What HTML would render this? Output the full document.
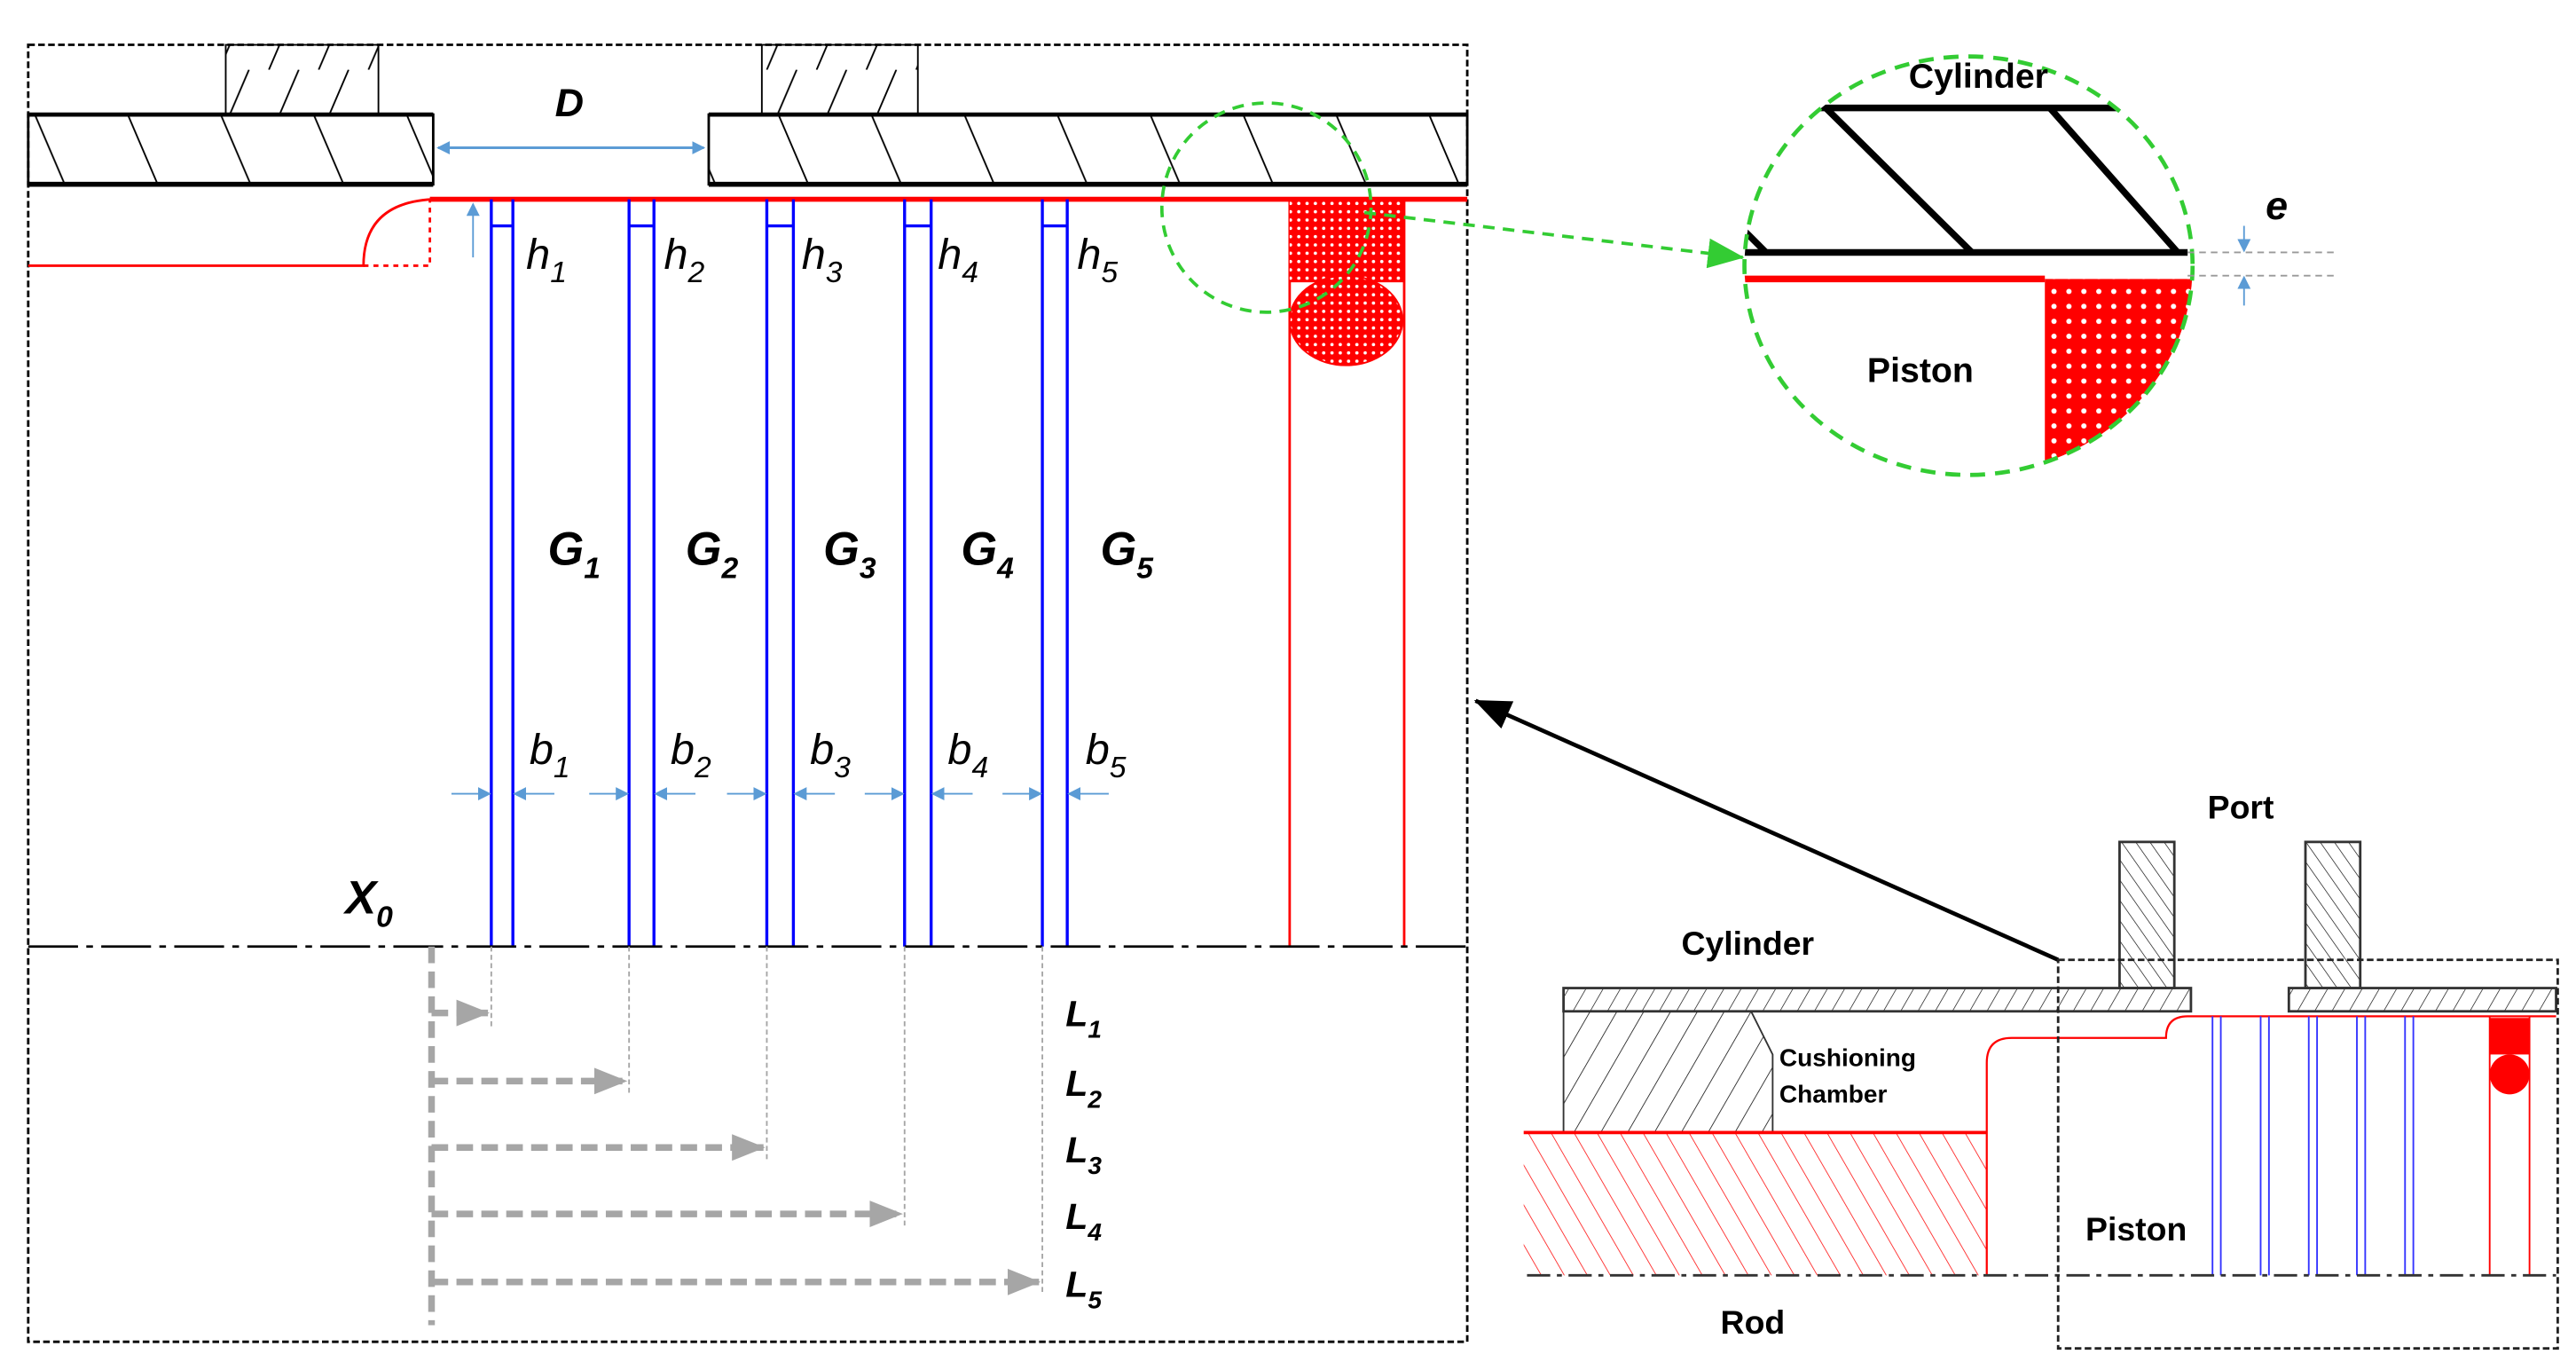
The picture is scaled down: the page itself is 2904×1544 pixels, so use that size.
<!DOCTYPE html>
<html><head><meta charset="utf-8"><style>
html,body{margin:0;padding:0;background:#fff;}
svg{display:block}
text{font-family:"Liberation Sans",sans-serif;}
</style></head><body>
<svg width="2904" height="1544" viewBox="0 0 1552 825" preserveAspectRatio="none" xmlns="http://www.w3.org/2000/svg">
<defs>
<pattern id="hb" patternUnits="userSpaceOnUse" width="56" height="42" patternTransform="translate(17,69)">
<path d="M4,0 L22,42 M60,0 L78,42 M-52,0 L-34,42" stroke="#000" stroke-width="1"/>
</pattern>
<pattern id="hp" patternUnits="userSpaceOnUse" width="30" height="42">
<path d="M30,0 L12,42 M60,0 L42,42 M0,0 L-18,42" stroke="#000" stroke-width="1"/>
</pattern>
<pattern id="h7" patternUnits="userSpaceOnUse" width="7" height="7" patternTransform="rotate(-35)">
<line x1="0" y1="0" x2="0" y2="7" stroke="#000" stroke-width="0.7"/>
</pattern>
<pattern id="h8" patternUnits="userSpaceOnUse" width="9" height="9" patternTransform="rotate(30)">
<line x1="0" y1="0" x2="0" y2="9" stroke="#000" stroke-width="0.7"/>
</pattern>
<pattern id="hc" patternUnits="userSpaceOnUse" width="14" height="14" patternTransform="rotate(30)">
<line x1="0" y1="0" x2="0" y2="14" stroke="#000" stroke-width="0.8"/>
</pattern>
<pattern id="hr" patternUnits="userSpaceOnUse" width="12" height="12" patternTransform="rotate(-30)">
<line x1="0" y1="0" x2="0" y2="12" stroke="#f00" stroke-width="0.8"/>
</pattern>
<pattern id="dots" patternUnits="userSpaceOnUse" width="5" height="5">
<rect width="5" height="5" fill="#f00"/><circle cx="2.5" cy="2.5" r="1" fill="#fff"/>
</pattern>
<pattern id="dots2" patternUnits="userSpaceOnUse" width="9" height="9">
<rect width="9" height="9" fill="#f00"/><circle cx="4.5" cy="4.5" r="1.6" fill="#fff"/>
</pattern>
<marker id="ab" markerWidth="8" markerHeight="8" refX="7" refY="4" orient="auto" markerUnits="userSpaceOnUse"><path d="M0,0 L8,4 L0,8z" fill="#5b9bd5"/></marker>
<marker id="ag" markerWidth="20" markerHeight="16" refX="19" refY="8" orient="auto" markerUnits="userSpaceOnUse"><path d="M0,0 L20,8 L0,16z" fill="#a6a6a6"/></marker>
<marker id="agr" markerWidth="22" markerHeight="18" refX="21" refY="9" orient="auto" markerUnits="userSpaceOnUse"><path d="M0,0 L22,9 L0,18z" fill="#3c3"/></marker>
<marker id="ak" markerWidth="22" markerHeight="18" refX="21" refY="9" orient="auto" markerUnits="userSpaceOnUse"><path d="M0,0 L22,9 L0,18z" fill="#000"/></marker>
<clipPath id="cc"><ellipse cx="1186" cy="160" rx="135" ry="126"/></clipPath>
</defs>

<rect x="17" y="27" width="867" height="781" fill="none" stroke="#000" stroke-width="1.5" stroke-dasharray="4,2"/>
<rect x="136" y="27" width="92" height="42" fill="url(#hp)" stroke="#000" stroke-width="1"/>
<rect x="459" y="27" width="94" height="42" fill="url(#hp)" stroke="#000" stroke-width="1"/>
<rect x="17" y="69" width="244" height="42" fill="url(#hb)" stroke="#000" stroke-width="1.5"/>
<rect x="427" y="69" width="457" height="42" fill="url(#hb)" stroke="#000" stroke-width="1.5"/>
<line x1="17" y1="111" x2="261" y2="111" stroke="#000" stroke-width="3"/>
<line x1="427" y1="111" x2="884" y2="111" stroke="#000" stroke-width="3"/>
<line x1="17" y1="69" x2="261" y2="69" stroke="#000" stroke-width="2.5"/>
<line x1="427" y1="69" x2="884" y2="69" stroke="#000" stroke-width="2.5"/>
<line x1="264" y1="89" x2="424" y2="89" stroke="#5b9bd5" stroke-width="1.5" marker-end="url(#ab)"/>
<line x1="424" y1="89" x2="264" y2="89" stroke="#5b9bd5" stroke-width="1.5" marker-end="url(#ab)"/>
<text x="343" y="70" font-size="24" font-weight="bold" font-style="italic" text-anchor="middle">D</text>

<line x1="259" y1="120" x2="884" y2="120" stroke="#f00" stroke-width="3"/>
<path d="M17,160 L219,160 Q219,122 261,120" fill="none" stroke="#f00" stroke-width="1.5"/>
<path d="M219,160 L259,160 L259,120" fill="none" stroke="#f00" stroke-width="1.5" stroke-dasharray="3,3"/>
<line x1="285" y1="155" x2="285" y2="123" stroke="#5b9bd5" stroke-width="1" marker-end="url(#ab)"/>

<g stroke="#00f" stroke-width="1.8" fill="none">
<path d="M296,120V570M309,120V570M296,136H309"/>
<path d="M379,120V570M394,120V570M379,136H394"/>
<path d="M462,120V570M478,120V570M462,136H478"/>
<path d="M545,120V570M561,120V570M545,136H561"/>
<path d="M628,120V570M643,120V570M628,136H643"/>
</g>
<g font-size="26" font-style="italic" font-family="Liberation Sans">
<text x="317" y="162">h<tspan font-size="18" dy="8">1</tspan></text>
<text x="400" y="162">h<tspan font-size="18" dy="8">2</tspan></text>
<text x="483" y="162">h<tspan font-size="18" dy="8">3</tspan></text>
<text x="565" y="162">h<tspan font-size="18" dy="8">4</tspan></text>
<text x="649" y="162">h<tspan font-size="18" dy="8">5</tspan></text>
<text x="319" y="460">b<tspan font-size="18" dy="8">1</tspan></text>
<text x="404" y="460">b<tspan font-size="18" dy="8">2</tspan></text>
<text x="488" y="460">b<tspan font-size="18" dy="8">3</tspan></text>
<text x="571" y="460">b<tspan font-size="18" dy="8">4</tspan></text>
<text x="654" y="460">b<tspan font-size="18" dy="8">5</tspan></text>
</g>
<g font-size="28" font-weight="bold" font-style="italic">
<text x="330" y="340">G<tspan font-size="18" dy="8">1</tspan></text>
<text x="413" y="340">G<tspan font-size="18" dy="8">2</tspan></text>
<text x="496" y="340">G<tspan font-size="18" dy="8">3</tspan></text>
<text x="579" y="340">G<tspan font-size="18" dy="8">4</tspan></text>
<text x="663" y="340">G<tspan font-size="18" dy="8">5</tspan></text>
<text x="208" y="550">X<tspan font-size="18" dy="8">0</tspan></text>
</g>
<g stroke="#5b9bd5" stroke-width="1">
<line x1="272" y1="478" x2="295" y2="478" marker-end="url(#ab)"/><line x1="334" y1="478" x2="310" y2="478" marker-end="url(#ab)"/>
<line x1="355" y1="478" x2="378" y2="478" marker-end="url(#ab)"/><line x1="419" y1="478" x2="395" y2="478" marker-end="url(#ab)"/>
<line x1="438" y1="478" x2="461" y2="478" marker-end="url(#ab)"/><line x1="503" y1="478" x2="479" y2="478" marker-end="url(#ab)"/>
<line x1="521" y1="478" x2="544" y2="478" marker-end="url(#ab)"/><line x1="586" y1="478" x2="562" y2="478" marker-end="url(#ab)"/>
<line x1="604" y1="478" x2="627" y2="478" marker-end="url(#ab)"/><line x1="668" y1="478" x2="644" y2="478" marker-end="url(#ab)"/>
</g>

<line x1="777" y1="120" x2="777" y2="570" stroke="#f00" stroke-width="1.5"/>
<line x1="846" y1="120" x2="846" y2="570" stroke="#f00" stroke-width="1.5"/>
<rect x="777" y="120" width="69" height="50" fill="url(#dots)"/>
<ellipse cx="811" cy="193" rx="34" ry="27" fill="url(#dots)" stroke="#f00" stroke-width="1"/>

<ellipse cx="763" cy="125" rx="63" ry="63" fill="none" stroke="#3c3" stroke-width="2" stroke-dasharray="7,5"/>
<line x1="822" y1="128" x2="1050" y2="155" stroke="#3c3" stroke-width="2" stroke-dasharray="7,5" marker-end="url(#agr)"/>

<line x1="17" y1="570" x2="884" y2="570" stroke="#000" stroke-width="1.5" stroke-dasharray="30,5,4,5"/>

<line x1="260" y1="570" x2="260" y2="798" stroke="#a6a6a6" stroke-width="4" stroke-dasharray="10,5"/>
<g stroke="#a6a6a6" stroke-width="1" stroke-dasharray="3,2">
<line x1="296" y1="570" x2="296" y2="618"/><line x1="379" y1="570" x2="379" y2="660"/><line x1="462" y1="570" x2="462" y2="700"/><line x1="545" y1="570" x2="545" y2="740"/><line x1="628" y1="570" x2="628" y2="780"/>
</g>
<g stroke="#a6a6a6" stroke-width="4" stroke-dasharray="10,5">
<line x1="260" y1="610" x2="294" y2="610" marker-end="url(#ag)"/>
<line x1="260" y1="651" x2="377" y2="651" marker-end="url(#ag)"/>
<line x1="260" y1="691" x2="460" y2="691" marker-end="url(#ag)"/>
<line x1="260" y1="731" x2="543" y2="731" marker-end="url(#ag)"/>
<line x1="260" y1="772" x2="626" y2="772" marker-end="url(#ag)"/>
</g>
<g font-size="22" font-weight="bold" font-style="italic">
<text x="642" y="618">L<tspan font-size="15" dy="7">1</tspan></text>
<text x="642" y="660">L<tspan font-size="15" dy="7">2</tspan></text>
<text x="642" y="700">L<tspan font-size="15" dy="7">3</tspan></text>
<text x="642" y="740">L<tspan font-size="15" dy="7">4</tspan></text>
<text x="642" y="781">L<tspan font-size="15" dy="7">5</tspan></text>
</g>

<line x1="1240" y1="578" x2="889" y2="422" stroke="#000" stroke-width="2.5" marker-end="url(#ak)"/>

<g clip-path="url(#cc)">
<rect x="1232" y="168" width="90" height="120" fill="url(#dots2)"/>
<line x1="1088" y1="65" x2="1285" y2="65" stroke="#000" stroke-width="4"/>
<line x1="1040" y1="152" x2="1318" y2="152" stroke="#000" stroke-width="4"/>
<line x1="1100" y1="65" x2="1188" y2="152" stroke="#000" stroke-width="4"/>
<line x1="1235" y1="65" x2="1312" y2="152" stroke="#000" stroke-width="4"/>
<line x1="1050" y1="138" x2="1064" y2="152" stroke="#000" stroke-width="4"/>
<line x1="1040" y1="168" x2="1232" y2="168" stroke="#f00" stroke-width="4"/>
</g>
<ellipse cx="1186" cy="160" rx="135" ry="126" fill="none" stroke="#3c3" stroke-width="2.5" stroke-dasharray="9,6"/>
<text x="1192" y="53" font-size="21" font-weight="bold" text-anchor="middle">Cylinder</text>
<text x="1157" y="230" font-size="21" font-weight="bold" text-anchor="middle">Piston</text>
<text x="1365" y="132" font-size="24" font-weight="bold" font-style="italic">e</text>
<g stroke="#999" stroke-width="1" stroke-dasharray="4,3"><line x1="1318" y1="152" x2="1408" y2="152"/><line x1="1318" y1="166" x2="1408" y2="166"/></g>
<line x1="1352" y1="136" x2="1352" y2="151" stroke="#5b9bd5" stroke-width="1" marker-end="url(#ab)"/>
<line x1="1352" y1="184" x2="1352" y2="167" stroke="#5b9bd5" stroke-width="1" marker-end="url(#ab)"/>

<text x="1350" y="493" font-size="20" font-weight="bold" text-anchor="middle">Port</text>
<rect x="1277" y="507" width="33" height="88" fill="url(#h7)" stroke="#333" stroke-width="1.5"/>
<rect x="1389" y="507" width="33" height="88" fill="url(#h7)" stroke="#333" stroke-width="1.5"/>
<rect x="942" y="595" width="378" height="14" fill="url(#h8)" stroke="#333" stroke-width="1.5"/>
<rect x="1379" y="595" width="161" height="14" fill="url(#h8)" stroke="#333" stroke-width="1.5"/>
<path d="M942,609 L1055,609 L1068,635 L1068,682 L942,682 Z" fill="url(#hc)" stroke="#333" stroke-width="1"/>
<rect x="918" y="682" width="279" height="86" fill="url(#hr)"/>
<line x1="918" y1="682" x2="1197" y2="682" stroke="#f00" stroke-width="2"/>
<path d="M1197,768 L1197,640 Q1197,625 1212,625 L1305,625 Q1305,612 1318,612 L1540,612" fill="none" stroke="#f00" stroke-width="1.2"/>
<g stroke="#33f" stroke-width="1"><path d="M1333,612V768M1338,612V768M1362,612V768M1367,612V768M1391,612V768M1396,612V768M1420,612V768M1425,612V768M1449,612V768M1454,612V768"/></g>
<line x1="1500" y1="612" x2="1500" y2="768" stroke="#f00" stroke-width="1"/>
<line x1="1524" y1="612" x2="1524" y2="768" stroke="#f00" stroke-width="1"/>
<rect x="1500" y="613" width="24" height="22" fill="#f00"/><ellipse cx="1512" cy="647" rx="12" ry="12" fill="#f00"/>
<line x1="920" y1="768" x2="1540" y2="768" stroke="#333" stroke-width="1.5" stroke-dasharray="14,4,3,4"/>
<rect x="1240" y="578" width="301" height="234" fill="none" stroke="#222" stroke-width="1.5" stroke-dasharray="4,2"/>
<text x="1053" y="575" font-size="20" font-weight="bold" text-anchor="middle">Cylinder</text>
<text x="1072" y="642" font-size="15" font-weight="bold">Cushioning</text>
<text x="1072" y="664" font-size="15" font-weight="bold">Chamber</text>
<text x="1287" y="747" font-size="20" font-weight="bold" text-anchor="middle">Piston</text>
<text x="1056" y="803" font-size="20" font-weight="bold" text-anchor="middle">Rod</text>
</svg>
</body></html>
